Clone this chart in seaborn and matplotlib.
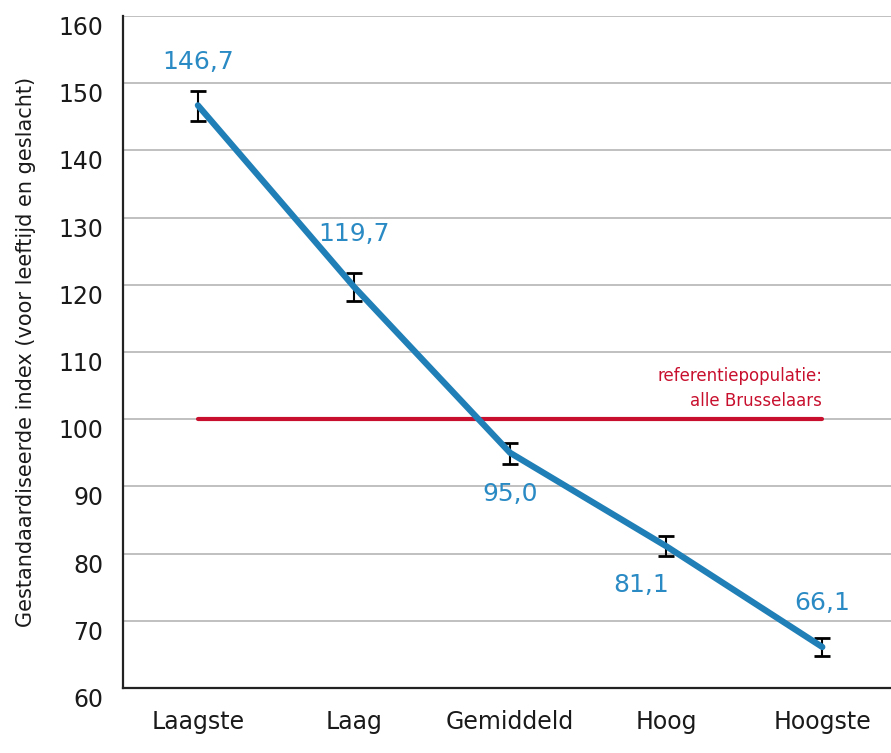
import numpy as np
import pandas as pd
import seaborn as sns
import matplotlib.pyplot as plt

categories = ["Laagste", "Laag", "Gemiddeld", "Hoog", "Hoogste"]
index_values = [146.7, 119.7, 95.0, 81.1, 66.1]
err_low = [2.3, 2.1, 1.6, 1.5, 1.3]
err_high = [2.2, 2.1, 1.5, 1.5, 1.4]
value_labels = ["146,7", "119,7", "95,0", "81,1", "66,1"]
reference_value = 100
reference_text = "referentiepopulatie:\nalle Brusselaars"

sns.set_theme(style="white")
plt.rcParams["font.family"] = ["DejaVu Sans"]

blue = "#1f7fb6"
label_blue = "#2a8ac4"
red = "#c8102e"

df = pd.DataFrame({"pos": np.arange(len(categories)), "index": index_values})

fig = plt.figure(figsize=(8.91, 7.53), dpi=100)
ax = fig.add_axes([0.138, 0.0863, 0.862, 0.8925])

ax.set_ylim(60, 160)
ax.set_xlim(-0.48, 4.44)
ax.set_yticks(range(60, 161, 10))
ax.yaxis.grid(True, color="#b5b5b5", linewidth=1.2)
ax.set_axisbelow(True)

# referentielijn
ax.plot([0, len(categories) - 1], [reference_value, reference_value],
        color=red, linewidth=3, zorder=2)
ax.text(4.0, 101.3, reference_text, color=red, fontsize=12,
        ha="right", va="bottom", linespacing=1.5)

ax.errorbar(df["pos"], df["index"], yerr=[err_low, err_high], fmt="none",
            ecolor="black", elinewidth=1.5, capsize=6, capthick=2, zorder=3)
sns.lineplot(data=df, x="pos", y="index", color=blue, linewidth=4.5,
             ax=ax, zorder=4)

offsets = [(0, 4.6, "bottom"), (0, 6.0, "bottom"), (0, -4.3, "top"),
           (-0.16, -4.0, "top"), (0, 4.8, "bottom")]
for i, (dx, dy, va) in enumerate(offsets):
    ax.text(i + dx, index_values[i] + dy, value_labels[i], color=label_blue,
            fontsize=18, ha="center", va=va)

ax.set_xticks(df["pos"])
ax.set_xticklabels(categories)
ax.set_xlabel("")
ax.set_ylabel("Gestandaardiseerde index (voor leeftijd en geslacht)",
              fontsize=15, color="#1a1a1a", labelpad=16)
ax.tick_params(axis="both", length=0, labelsize=17, colors="#1a1a1a")
ax.tick_params(axis="x", pad=16)
ax.tick_params(axis="y", pad=14)
for lab in ax.get_yticklabels():
    lab.set_va("top")

for side in ["top", "right"]:
    ax.spines[side].set_visible(False)
for side in ["left", "bottom"]:
    ax.spines[side].set_color("#222222")
    ax.spines[side].set_linewidth(1.6)

fig.savefig("out.png", dpi=100)
